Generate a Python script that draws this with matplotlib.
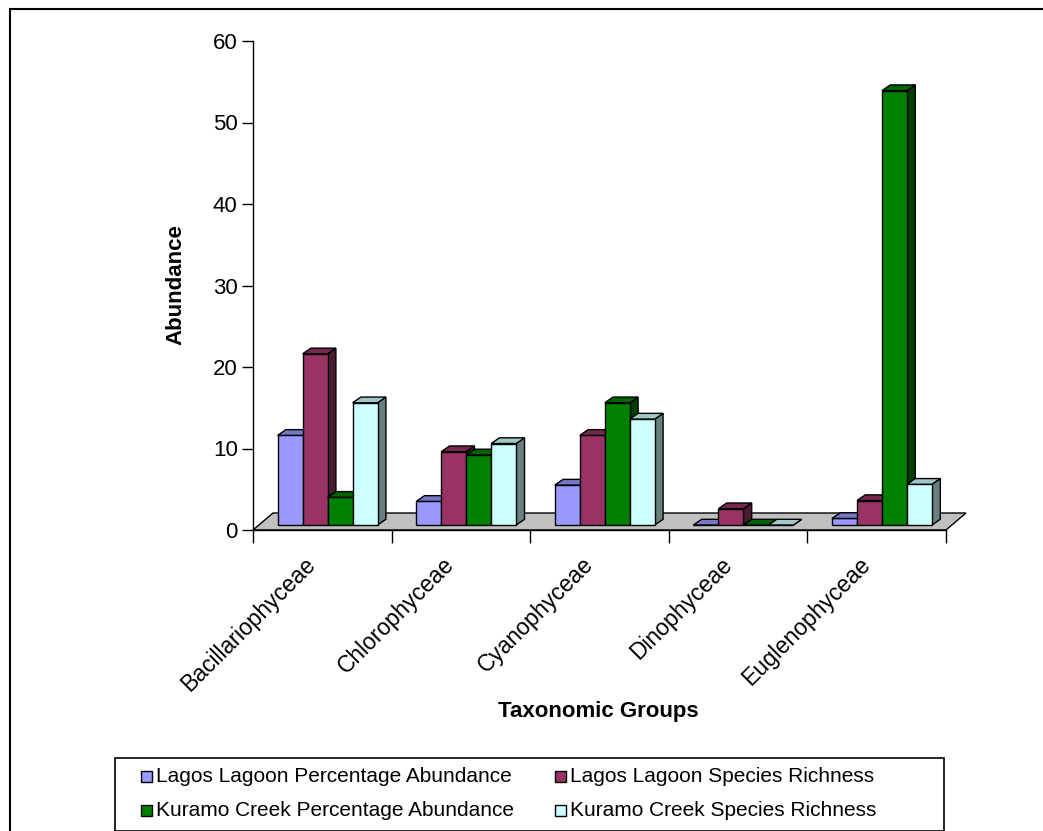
import matplotlib
matplotlib.use("Agg")
import matplotlib.pyplot as plt
from matplotlib.patches import Polygon, Rectangle
from matplotlib.lines import Line2D
import numpy as np

plt.rcParams['font.family'] = ['Liberation Sans', 'DejaVu Sans']

# ---- data ----
groups = ["Bacillariophyceae", "Chlorophyceae", "Cyanophyceae",
          "Dinophyceae", "Euglenophyceae"]
lagos_pct = [11.0, 2.9, 4.9, 0.0, 0.8]
lagos_rich = [21.0, 9.0, 11.0, 2.0, 3.0]
kuramo_pct = [3.4, 8.6, 15.0, 0.0, 53.3]
kuramo_rich = [15.0, 10.0, 13.0, 0.0, 5.0]
series_names = ["Lagos Lagoon Percentage Abundance",
                "Lagos Lagoon Species Richness",
                "Kuramo Creek Percentage Abundance",
                "Kuramo Creek Species Richness"]
yticks = [0, 10, 20, 30, 40, 50, 60]

series = [lagos_pct, lagos_rich, kuramo_pct, kuramo_rich]
colors = ["#9999FF", "#993366", "#008000", "#CCFFFF"]

W, H = 1043, 831
fig = plt.figure(figsize=(W / 100, H / 100), dpi=100)

# axes box in pixels: x 253..946, y 41..530
ax_l, ax_r, ax_t, ax_b = 253, 946, 41, 530
ax = fig.add_axes([ax_l / W, 1 - ax_b / H, (ax_r - ax_l) / W, (ax_b - ax_t) / H])
ax.set_xlim(0, len(groups))
ax.set_ylim(0, 60)

px_x = (ax_r - ax_l) / len(groups)   # pixels per category
px_y = (ax_b - ax_t) / 60.0          # pixels per value unit

def shade(c, f):
    r, g, b = matplotlib.colors.to_rgb(c)
    return (r * f, g * f, b * f)

# floor of the 3-D plot
fdx, fdy = 20 / px_x, 17 / px_y
floor = Polygon([(0, 0), (len(groups), 0), (len(groups) + fdx, fdy), (fdx, fdy)],
                closed=True, facecolor="#C0C0C0", edgecolor="black", lw=1,
                zorder=1, clip_on=False)
ax.add_patch(floor)

# 3-D bars
bw = 25 / px_x                 # bar width
base_dx, base_dy = 6 / px_x, 5 / px_y
ddx, ddy = 8.3 / px_x, 5.7 / px_y
z = 2
for gi in range(len(groups)):
    start = gi + 0.5 - 2 * bw + base_dx - 0.005
    for si, vals in enumerate(series):
        v = vals[gi]
        x0 = start + si * bw
        y0 = base_dy
        c = colors[si]
        front = Rectangle((x0, y0), bw, v, facecolor=c, edgecolor="black",
                          lw=1, zorder=z, clip_on=False)
        top = Polygon([(x0, y0 + v), (x0 + bw, y0 + v),
                       (x0 + bw + ddx, y0 + v + ddy), (x0 + ddx, y0 + v + ddy)],
                      closed=True, facecolor=shade(c, 0.78), edgecolor="black",
                      lw=1, zorder=z, clip_on=False)
        side = Polygon([(x0 + bw, y0), (x0 + bw + ddx, y0 + ddy),
                        (x0 + bw + ddx, y0 + v + ddy), (x0 + bw, y0 + v)],
                       closed=True, facecolor=shade(c, 0.5), edgecolor="black",
                       lw=1, zorder=z, clip_on=False)
        ax.add_patch(side)
        ax.add_patch(front)
        ax.add_patch(top)
        z += 1

# axes styling
for s in ["top", "right"]:
    ax.spines[s].set_visible(False)
ax.spines["left"].set_linewidth(1)
ax.spines["bottom"].set_linewidth(1)
ax.spines["bottom"].set_zorder(1.5)
ax.set_yticks(yticks)
ax.set_yticklabels([str(t) for t in yticks], fontsize=16)
ax.tick_params(axis="y", direction="out", length=8, width=1, pad=3)
ax.set_xticks(np.arange(len(groups) + 1))
ax.set_xticklabels([])
ax.tick_params(axis="x", direction="out", length=9, width=1)

# category labels
for gi, name in enumerate(groups):
    ax.text(gi + 0.5 - 10 / px_x, -31 / px_y, name, rotation=45,
            rotation_mode="anchor", ha="right", va="center",
            fontsize=16.5, clip_on=False)

# axis titles
fig.text(176 / W, 1 - 285 / H, "Abundance", rotation=90, fontsize=16,
         fontweight="bold", ha="center", va="center")
fig.text(598 / W, 1 - 711 / H, "Taxonomic Groups", fontsize=16,
         fontweight="bold", ha="center", va="center")

# outer chart border
fig.add_artist(Line2D([10 / W, 10 / W], [0, 1 - 9 / H], color="black", lw=1.5,
                      transform=fig.transFigure))
fig.add_artist(Line2D([10 / W, 1], [1 - 9 / H, 1 - 9 / H], color="black", lw=1.5,
                      transform=fig.transFigure))

# legend box
lx0, lx1, ly0 = 115, 944, 758
fig.add_artist(Rectangle((lx0 / W, 0), (lx1 - lx0) / W, 1 - ly0 / H,
                         transform=fig.transFigure, facecolor="white",
                         edgecolor="black", lw=1.2))
col_x = [141, 555]
row_y = [776, 810]
msz = 11
for i, (name, c) in enumerate(zip(series_names, colors)):
    cx = col_x[i % 2]
    cy = row_y[i // 2]
    fig.add_artist(Rectangle((cx / W, 1 - (cy + msz / 2) / H), msz / W, msz / H,
                             transform=fig.transFigure, facecolor=c,
                             edgecolor="black", lw=1))
    fig.text((cx + msz + 4) / W, 1 - cy / H, name, fontsize=15,
             ha="left", va="center")

fig.savefig("out.png", dpi=100)
